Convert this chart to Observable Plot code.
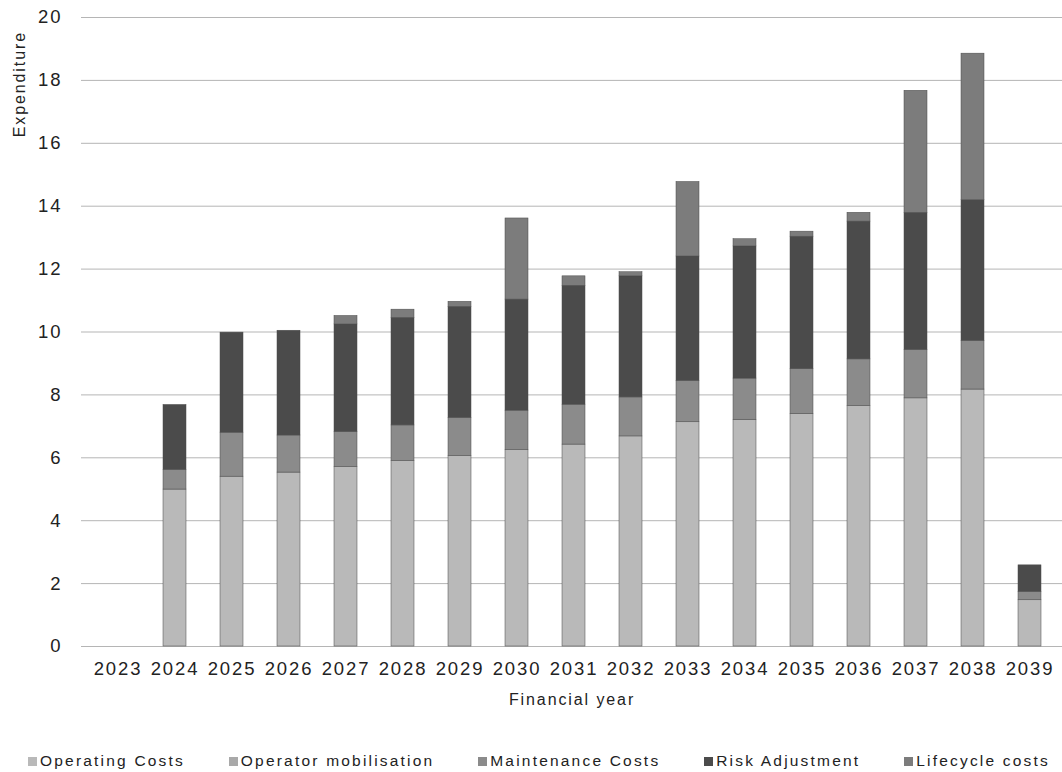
<!DOCTYPE html>
<html>
<head>
<meta charset="utf-8">
<script src="https://cdn.jsdelivr.net/npm/d3@7"></script>
<script src="https://cdn.jsdelivr.net/npm/@observablehq/plot@0.6"></script>
<style>
  html, body { margin: 0; padding: 0; background: #fff; overflow: hidden; }
  #chart svg text { letter-spacing: 1.9px; }
  .legend {
    display: flex; justify-content: space-between; align-items: center;
    margin: 32px 12px 0 28px;
    font: 15.5px "Liberation Sans", Arial, sans-serif; letter-spacing: 2.2px; color: #222;
  }
  .legend .item { display: flex; align-items: center; white-space: nowrap; }
  .legend .sw { width: 9px; height: 9px; margin-right: 3px; }
</style>
</head>
<body>
<div id="chart"></div>
<script>
// Financial years on the x axis
const years = ["2023","2024","2025","2026","2027","2028","2029","2030","2031",
               "2032","2033","2034","2035","2036","2037","2038","2039"];

// Expenditure by cost type, one value per year
const operatingCosts = [0, 4.99, 5.40, 5.53, 5.71, 5.90, 6.06, 6.24, 6.42, 6.68, 7.13, 7.21, 7.40, 7.64, 7.89, 8.17, 1.47];
const operatorMobilisation = [0, 0, 0, 0, 0, 0, 0, 0, 0, 0, 0, 0, 0, 0, 0, 0, 0];
const maintenanceCosts = [0, 0.63, 1.40, 1.18, 1.11, 1.13, 1.21, 1.26, 1.27, 1.24, 1.32, 1.31, 1.42, 1.49, 1.54, 1.55, 0.27];
const riskAdjustment = [0, 2.06, 3.18, 3.33, 3.42, 3.42, 3.53, 3.53, 3.78, 3.85, 3.95, 4.20, 4.21, 4.38, 4.36, 4.47, 0.84];
const lifecycleCosts = [0, 0, 0, 0, 0.27, 0.26, 0.16, 2.58, 0.30, 0.13, 2.37, 0.23, 0.16, 0.28, 3.88, 4.66, 0];

const seriesNames = ["Operating Costs", "Operator mobilisation", "Maintenance Costs", "Risk Adjustment", "Lifecycle costs"];
const seriesValues = [operatingCosts, operatorMobilisation, maintenanceCosts, riskAdjustment, lifecycleCosts];
const seriesColors = ["#b9b9b9", "#a9a9a9", "#8b8b8b", "#4b4b4b", "#7c7c7c"];

const yTicks = [0, 2, 4, 6, 8, 10, 12, 14, 16, 18, 20];

// Long table for stacking: bottom-up in series order, empty segments dropped
const rows = [];
years.forEach((year, i) => {
  seriesNames.forEach((name, s) => {
    const v = seriesValues[s][i];
    if (v > 0) rows.push({year, series: name, value: v});
  });
});

const font = '"Liberation Sans", Arial, sans-serif';

const plot = Plot.plot({
  width: 1062,
  height: 720,
  marginTop: 17,
  marginLeft: 81,
  marginRight: 0,
  marginBottom: 74,
  style: {fontFamily: font, fontSize: "18.5px", color: "#222", background: "#fff"},
  x: {domain: years, range: [81, 1066], paddingInner: 0.6, paddingOuter: 0.3, label: null},
  y: {domain: [0, 20], label: null},
  color: {domain: seriesNames, range: seriesColors},
  marks: [
    Plot.gridY(yTicks, {stroke: "#b5b5b5", strokeOpacity: 1, strokeWidth: 1}),
    Plot.barY(rows, Plot.stackY({
      x: "year", y: "value", fill: "series", order: seriesNames,
      stroke: "#4a4a4a", strokeWidth: 0.5
    })),
    Plot.axisY({ticks: yTicks, tickSize: 0, tickPadding: 19, label: null}),
    Plot.axisX({tickSize: 0, tickPadding: 15, label: null}),
    Plot.text(["Financial year"], {
      frameAnchor: "bottom", dy: 58, text: d => d, fontSize: 16, fill: "#222"
    })
  ]
});

// Vertical y-axis title, anchored to the top of the axis
d3.select(plot).append("text")
  .attr("transform", "translate(25,31) rotate(-90)")
  .attr("text-anchor", "end")
  .attr("font-size", 16)
  .attr("fill", "#222")
  .text("Expenditure");

document.getElementById("chart").append(plot);

// Legend row below the chart
const legend = d3.select("body").append("div").attr("class", "legend");
seriesNames.forEach((name, s) => {
  const item = legend.append("div").attr("class", "item");
  item.append("div").attr("class", "sw").style("background", seriesColors[s]);
  item.append("span").text(name);
});
</script>
</body>
</html>
